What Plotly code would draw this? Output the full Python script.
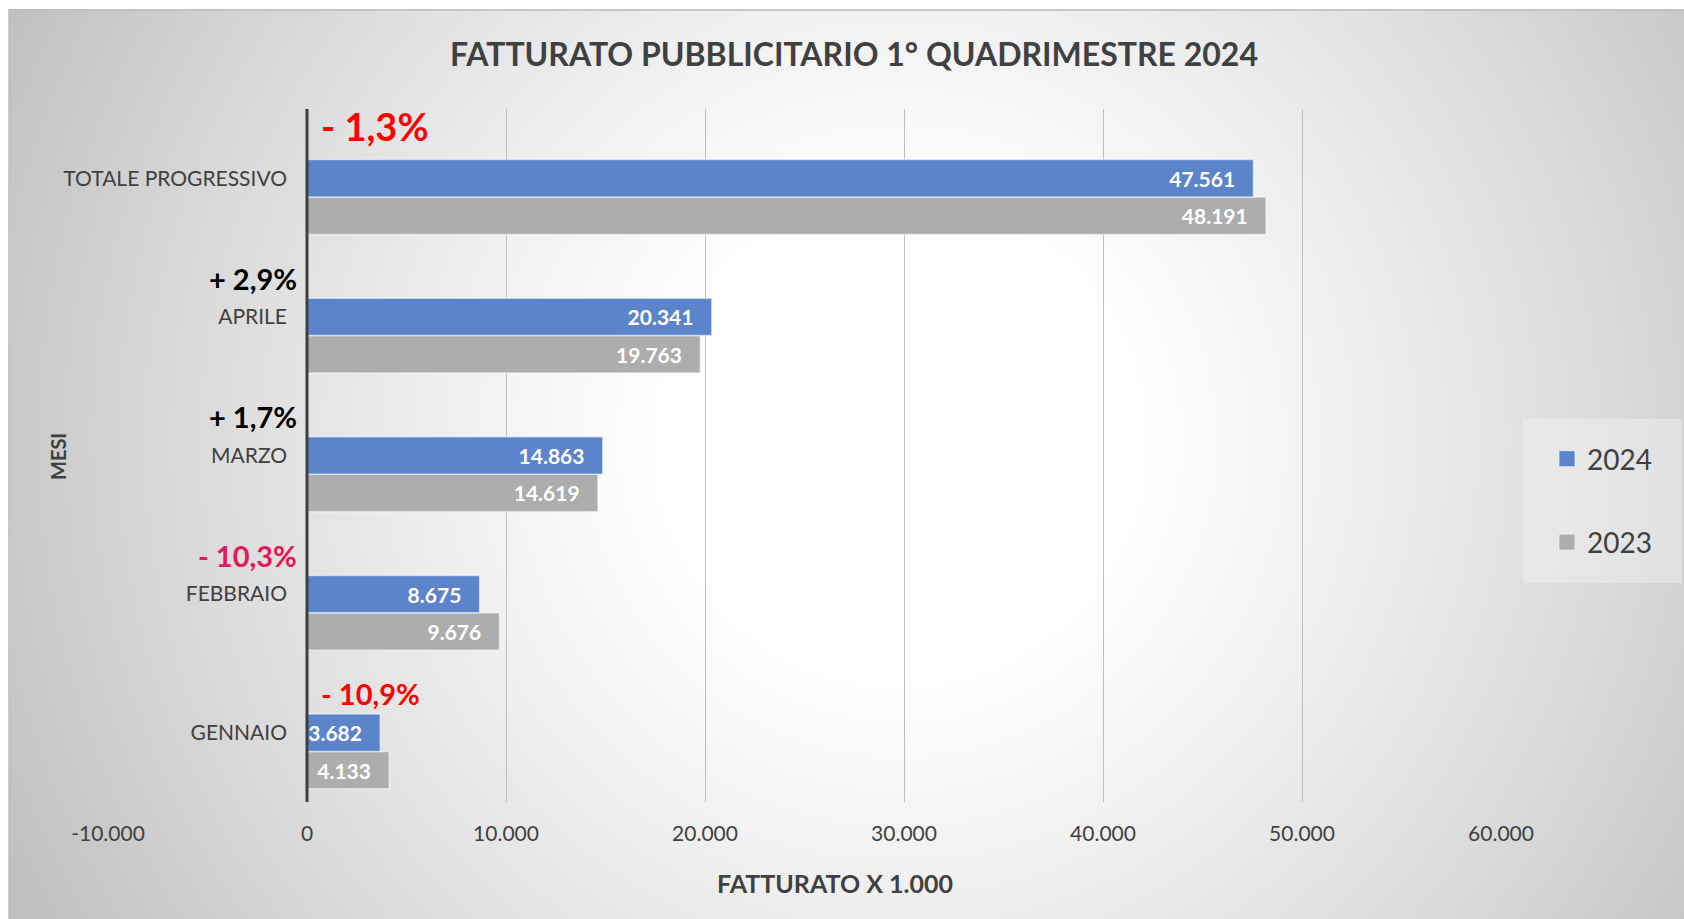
import base64
import plotly.graph_objects as go

# ---- data -------------------------------------------------------------
mesi = ["GENNAIO", "FEBBRAIO", "MARZO", "APRILE", "TOTALE PROGRESSIVO"]
fatturato_2024 = [3682, 8675, 14863, 20341, 47561]
fatturato_2023 = [4133, 9676, 14619, 19763, 48191]
x_tick_values = [-10000, 0, 10000, 20000, 30000, 40000, 50000, 60000]
x_tick_labels = ["-10.000", "0", "10.000", "20.000", "30.000", "40.000", "50.000", "60.000"]

# ---- styling ----------------------------------------------------------
W, H = 1684, 919
FONT = "Lato"
TXT = "#404040"
BLUE = "#5B84CA"
GREY = "#ADADAD"
pct_colors = ["#FF0000", "#E3185A", "#000000", "#000000", "#FF0000"]
pct_sizes = [29, 29, 29, 29, 38]
pct_side = ["right", "left", "left", "left", "right"]   # side of the zero line
pct_yshift = [0, 0, 0, 0, 13]

def px_x(p):
    return p / W

def px_y(p):
    return 1 - p / H

def pct_text(a, b):
    c = (a - b) / b * 100
    sign = "+" if c >= 0 else "-"
    return f"{sign} {abs(c):.1f}".replace(".", ",") + "%"

pos = list(range(len(mesi)))
BAR_W = 0.27

# radial background
bg_w, bg_h = W - 9, H - 9
svg = f'''<svg xmlns="http://www.w3.org/2000/svg" width="{bg_w}" height="{bg_h}" viewBox="0 0 {bg_w} {bg_h}" preserveAspectRatio="none">
<defs><radialGradient id="g" gradientUnits="userSpaceOnUse" cx="{900-9}" cy="{440-9}" r="980">
<stop offset="0" stop-color="#ffffff"/>
<stop offset="0.24" stop-color="#ffffff"/>
<stop offset="0.48" stop-color="#eeeeee"/>
<stop offset="0.74" stop-color="#d9d9d9"/>
<stop offset="1" stop-color="#c1c1c1"/>
</radialGradient></defs>
<rect x="0" y="0" width="{bg_w}" height="{bg_h}" fill="url(#g)"/>
</svg>'''
bg_src = "data:image/svg+xml;base64," + base64.b64encode(svg.encode()).decode()

fig = go.Figure()

bar_text = dict(family=FONT, size=21, color="white", weight="bold")
fig.add_trace(go.Bar(
    y=pos, x=fatturato_2023, orientation="h", name="2023",
    width=BAR_W, offset=-1.5 * BAR_W,
    marker=dict(color=GREY, line=dict(color="rgba(255,255,255,0.55)", width=1.5)),
    texttemplate="%{x:,}\u00a0\u00a0\u00a0", textposition="inside", insidetextanchor="end",
    textfont=bar_text, constraintext="none", showlegend=False, hoverinfo="skip",
))
fig.add_trace(go.Bar(
    y=pos, x=fatturato_2024, orientation="h", name="2024",
    width=BAR_W, offset=-0.5 * BAR_W,
    marker=dict(color=BLUE, line=dict(color="rgba(255,255,255,0.55)", width=1.5)),
    texttemplate="%{x:,}\u00a0\u00a0\u00a0", textposition="inside", insidetextanchor="end",
    textfont=bar_text, constraintext="none", showlegend=False, hoverinfo="skip",
))

# legend entries
for name, col in (("2024", BLUE), ("2023", GREY)):
    fig.add_trace(go.Scatter(
        x=[None], y=[None], mode="markers", name=name, legendgroup=name,
        marker=dict(symbol="square", size=18, color=col,
                    line=dict(color="rgba(255,255,255,0.6)", width=1)),
    ))

annotations = [
    dict(text="FATTURATO PUBBLICITARIO 1° QUADRIMESTRE 2024", x=px_x(854), y=px_y(53),
         xref="paper", yref="paper", xanchor="center", yanchor="middle", showarrow=False,
         font=dict(family=FONT, size=32, color=TXT, weight="bold")),
    dict(text="FATTURATO X 1.000", x=px_x(835), y=px_y(883),
         xref="paper", yref="paper", xanchor="center", yanchor="middle", showarrow=False,
         font=dict(family=FONT, size=25, color=TXT, weight="bold")),
    dict(text="MESI", x=px_x(58), y=px_y(456), textangle=-90,
         xref="paper", yref="paper", xanchor="center", yanchor="middle", showarrow=False,
         font=dict(family=FONT, size=20, color=TXT, weight="bold")),
]
for i, (a, b) in enumerate(zip(fatturato_2024, fatturato_2023)):
    right = pct_side[i] == "right"
    annotations.append(dict(
        text=pct_text(a, b), x=0, y=i + 0.28, xref="x", yref="y",
        xanchor="left" if right else "right", yanchor="middle",
        xshift=12 if right else -8,
        yshift=pct_yshift[i], showarrow=False,
        font=dict(family=FONT, size=pct_sizes[i], color=pct_colors[i], weight="bold"),
    ))

fig.update_layout(
    width=W, height=H,
    margin=dict(l=0, r=0, t=0, b=0, autoexpand=False),
    paper_bgcolor="white", plot_bgcolor="rgba(0,0,0,0)",
    separators=",.",
    barmode="overlay",
    uniformtext=dict(mode="show", minsize=20),
    font=dict(family=FONT, color=TXT),
    images=[dict(source=bg_src, xref="paper", yref="paper",
                 x=px_x(9), y=px_y(9), sizex=1 - px_x(9), sizey=1 - 9 / H,
                 xanchor="left", yanchor="top", sizing="stretch", layer="below")],
    shapes=[
        dict(type="rect", xref="paper", yref="paper",
             x0=px_x(9), x1=1.01, y0=-0.01, y1=px_y(10),
             line=dict(color="#BDBDBD", width=1.5), fillcolor="rgba(0,0,0,0)", layer="below"),
        dict(type="rect", xref="paper", yref="paper",
             x0=px_x(1523), x1=px_x(1682), y0=px_y(583), y1=px_y(419),
             line=dict(width=0), fillcolor="rgba(255,255,255,0.3)", layer="below"),
        # vertical category axis line at zero, drawn over the bars
        dict(type="line", xref="x", yref="y domain", x0=0, x1=0, y0=0, y1=1,
             line=dict(color="#3F3F3F", width=3), layer="above"),
    ],
    xaxis=dict(
        domain=[px_x(108), px_x(1501)], range=[-10000, 60000],
        tickvals=x_tick_values, ticktext=x_tick_labels,
        showgrid=True, gridcolor="#BFBFBF", gridwidth=1,
        zeroline=False,
        showline=False, ticks="", ticklabelstandoff=17, automargin=False,
        tickfont=dict(family=FONT, size=21, color=TXT),
        fixedrange=True,
    ),
    yaxis=dict(
        domain=[px_y(802), px_y(109)], range=[-0.5, 4.5],
        tickvals=pos, ticktext=mesi,
        anchor="free", position=px_x(307),
        showgrid=False, zeroline=False, showline=False, ticks="",
        ticklabelstandoff=20, automargin=False,
        tickfont=dict(family=FONT, size=21, color=TXT),
        fixedrange=True,
    ),
    legend=dict(
        x=px_x(1547), y=px_y(434), xanchor="left", yanchor="top",
        bgcolor="rgba(0,0,0,0)", traceorder="grouped", tracegroupgap=44,
        font=dict(family=FONT, size=28, color=TXT),
    ),
    annotations=annotations,
)

fig.write_html("out.html")
